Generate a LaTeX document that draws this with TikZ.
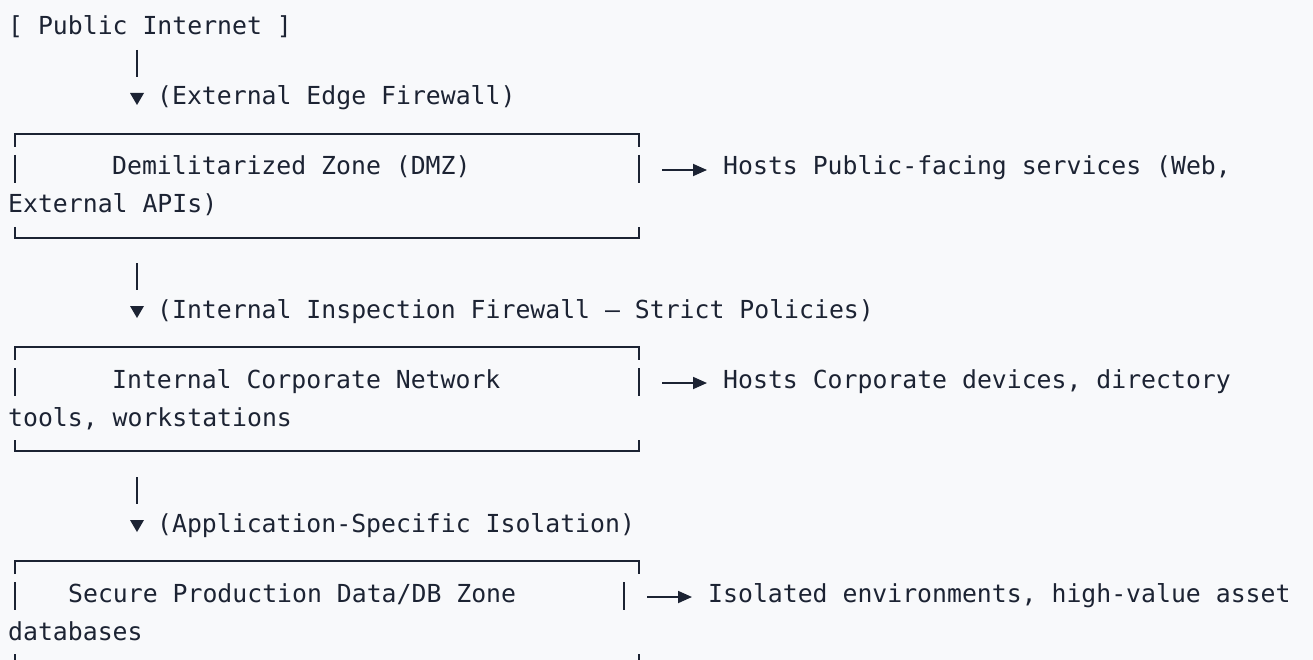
\documentclass[tikz,border=0pt]{standalone}
\usepackage{fontspec}
\setmonofont{DejaVu Sans Mono}
\usepackage{tikz}
\usetikzlibrary{arrows.meta}
\definecolor{ink}{HTML}{1C2333}
\definecolor{paper}{HTML}{F8F9FB}
\tikzset{txt/.style={anchor=base west,inner sep=0pt,text=ink,
           font=\ttfamily\fontsize{24.8}{30}\selectfont},
         rule/.style={draw=ink,line width=1.6pt},
         flow/.style={draw=ink,line width=1.8pt,shorten >=16pt,
           -{Triangle[length=14pt,width=12pt]}}}

\begin{document}
\begin{tikzpicture}[x=1pt,y=-1pt]
    \fill[paper] (0,0) rectangle (1313,660);
    \useasboundingbox (0,0) rectangle (1313,660);

    \node[txt] (net) at (8,35) {[ Public Internet ]};
    \node[txt] (fw1) at (157,105) {(External Edge Firewall)};
    \node[txt] (fw2) at (157,318) {(Internal Inspection Firewall — Strict Policies)};
    \node[txt] (fw3) at (157,532) {(Application-Specific Isolation)};

    \node[txt] (dmz) at (112,175) {Demilitarized Zone (DMZ)};
    \node[txt] (dmzA) at (723,175) {Hosts Public-facing services (Web,};
    \node[txt] (dmzB) at (8,213) {External APIs)};
    \node[txt] (corp) at (112,388) {Internal Corporate Network};
    \node[txt] (corpA) at (723,388) {Hosts Corporate devices, directory};
    \node[txt] (corpB) at (8,426) {tools, workstations};
    \node[txt] (prod) at (68,602) {Secure Production Data/DB Zone};
    \node[txt] (prodA) at (708,602) {Isolated environments, high-value asset};
    \node[txt] (prodB) at (8,640) {databases};

    % zone boxes
    \draw[rule] (15,147) -- (15,134) -- (639,134) -- (639,147);
    \draw[rule] (15,155) -- (15,183); \draw[rule] (639,155) -- (639,183);
    \draw[rule] (15,227) -- (15,238) -- (639,238) -- (639,227);
    \draw[rule] (15,360) -- (15,347) -- (639,347) -- (639,360);
    \draw[rule] (15,368) -- (15,396); \draw[rule] (639,368) -- (639,396);
    \draw[rule] (15,440) -- (15,451) -- (639,451) -- (639,440);
    \draw[rule] (15,574) -- (15,561) -- (639,561) -- (639,574);
    \draw[rule] (15,582) -- (15,610); \draw[rule] (624,582) -- (624,610);
    \draw[rule] (15,654) -- (15,665) -- (639,665) -- (639,654);

    % down links
    \coordinate (v1) at (137,50); \coordinate (v2) at (137,263); \coordinate (v3) at (137,477);
    \draw[rule] (v1) -- ++(0,27); \fill[ink] (v1) ++(-7,43) -- ++(14,0) -- ++(-7,12) -- cycle;
    \draw[rule] (v2) -- ++(0,27); \fill[ink] (v2) ++(-7,43) -- ++(14,0) -- ++(-7,12) -- cycle;
    \draw[rule] (v3) -- ++(0,27); \fill[ink] (v3) ++(-7,43) -- ++(14,0) -- ++(-7,12) -- cycle;

    % side notes
    \coordinate (dmzR) at (662,170); \coordinate (corpR) at (662,383); \coordinate (prodR) at (647,597);
    \draw[flow] (dmzR) -- (dmzR -| dmzA.west);
    \draw[flow] (corpR) -- (corpR -| corpA.west);
    \draw[flow] (prodR) -- (prodR -| prodA.west);
\end{tikzpicture}
\end{document}
